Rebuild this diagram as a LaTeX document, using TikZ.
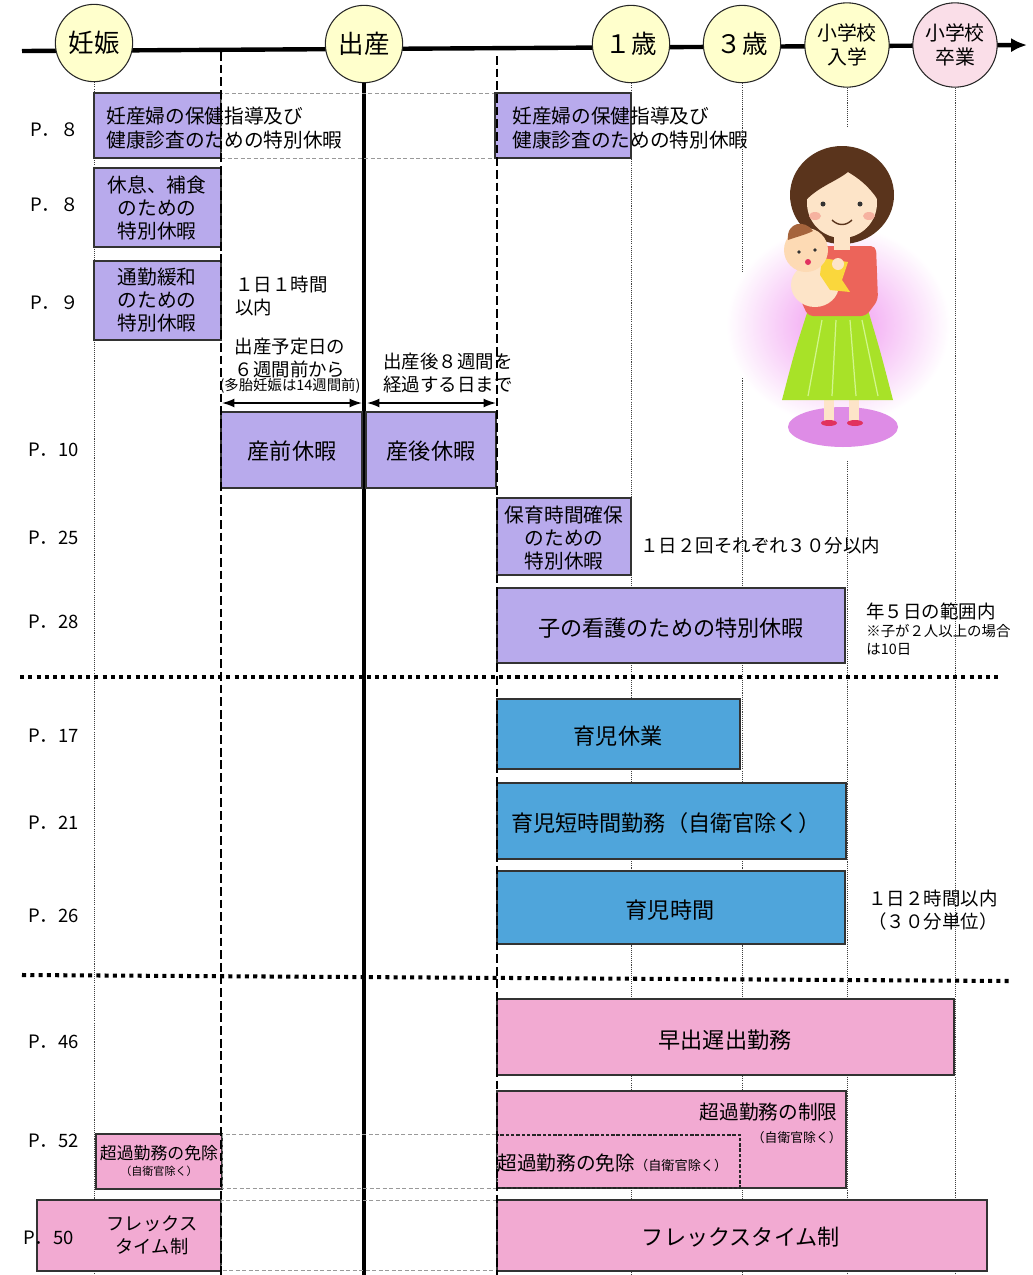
\documentclass[tikz,border=0pt]{standalone}
\usepackage{fontspec}
\setmainfont{Noto Sans CJK JP}
\usetikzlibrary{arrows.meta,positioning}

\definecolor{lav}{RGB}{184,170,236}
\definecolor{sky}{RGB}{79,165,219}
\definecolor{rose}{RGB}{242,170,210}
\definecolor{cream}{RGB}{255,255,204}
\definecolor{blush}{RGB}{250,222,232}
% colours of the mother and baby
\definecolor{glow}{RGB}{240,150,240}
\definecolor{floor}{RGB}{222,140,230}
\definecolor{skin}{RGB}{253,228,200}
\definecolor{shoe}{RGB}{225,50,95}
\definecolor{skirt}{RGB}{168,226,40}
\definecolor{pleat}{RGB}{210,246,140}
\definecolor{shirt}{RGB}{236,100,90}
\definecolor{hair}{RGB}{90,52,28}
\definecolor{cheek}{RGB}{246,178,160}
\definecolor{bib}{RGB}{250,215,60}
\definecolor{babyhair}{RGB}{165,100,60}

\tikzset{>={Latex[length=7pt,width=5pt]}}
\tikzset{
    stage/.style={circle, draw=black!85, line width=0.6pt, fill=cream, minimum size=44pt,
        inner sep=0pt, font=\fontsize{14.5}{16}\selectfont},
    school/.style={stage, minimum size=48pt, align=center, font=\fontsize{11.3}{13.6}\selectfont},
    timeline/.style={line width=2.5pt, -{Latex[length=9pt,width=8pt]}},
    guide/.style={line width=0.55pt, dash pattern=on 0.6pt off 0.6pt, black!75},
    border/.style={line width=1.7pt, dash pattern=on 5pt off 2.2pt},
    birth/.style={line width=2.8pt},
    rowsep/.style={line width=2.3pt, dash pattern=on 2.3pt off 2.4pt},
    lavbox/.style={draw=black!80, line width=0.8pt, fill=lav},
    skybox/.style={draw=black!80, line width=0.8pt, fill=sky},
    rosebox/.style={draw=black!80, line width=0.8pt, fill=rose},
    ghost/.style={draw=black!40, line width=0.5pt, dash pattern=on 2.5pt off 1.2pt},
    innerdash/.style={draw=black!85, line width=0.6pt, dash pattern=on 2pt off 1pt},
    txt/.style={inner sep=0pt, align=center, font=\fontsize{11.2}{13.3}\selectfont},
    bigtxt/.style={txt, font=\fontsize{12.6}{15}\selectfont},
    note/.style={inner sep=0pt, align=left, anchor=west, font=\fontsize{10.5}{12.8}\selectfont},
    fine/.style={inner sep=0pt, align=left, font=\fontsize{8.2}{10.2}\selectfont},
    pagelbl/.style={inner sep=0pt, anchor=east, font=\fontsize{10.5}{12}\selectfont},
}

\begin{document}
\begin{tikzpicture}[x=0.02cm, y=-0.02cm]
    \useasboundingbox (0,0) rectangle (1032,1275);
    \coordinate (bottom) at (0,1275);

    % time axis with the stages
    \draw[timeline] (22,51) -- (1027,45);
    \node[stage] (ninshin) at (94,43) {妊娠};
    \node[stage] (shussan) at (364,44) {出産};
    \node[stage] (age1) at (631,44) {１歳};
    \node[stage] (age3) at (742,44) {３歳};
    \node[school] (nyugaku) at (847,45) {小学校\\入学};
    \node[school, fill=blush] (sotsugyo) at (955,45) {小学校\\卒業};

    \foreach \s in {ninshin,age1,age3,nyugaku,sotsugyo}
    {
        \draw[guide] (\s.south) -- (\s.south |- bottom);
    }
    \draw[birth] (shussan.south) -- (shussan.south |- bottom);

    % mother holding the baby
    \fill[white] (772,127) rectangle (927,460);
    \shade[inner color=glow, outer color=white] (838,325) ellipse [x radius=112, y radius=100];
    \fill[floor] (843,427) ellipse [x radius=55, y radius=20];
    \fill[skin] (824,396) rectangle (834,421);
    \fill[skin] (849,396) rectangle (859,421);
    \fill[shoe] (829,423) ellipse [x radius=8, y radius=3];
    \fill[shoe] (855,423) ellipse [x radius=8, y radius=3];
    \fill[skirt] (808,310) -- (868,310) .. controls (880,350) .. (893,400)
        -- (782,400) .. controls (795,350) .. (808,310) -- cycle;
    \foreach \a/\b in {822/808, 836/832, 850/856, 862/878}
    {
        \draw[pleat, line width=0.7pt] (\a,320) -- (\b,396);
    }
    \fill[shirt, rounded corners=3pt] (800,246) -- (876,246) -- (878,300) -- (866,316)
        -- (808,316) -- (796,290) -- cycle;
    \fill[hair] (842,195) ellipse [x radius=52, y radius=49];
    \fill[skin] (834,230) rectangle (850,250);
    \fill[skin] (842,203) ellipse [x radius=35, y radius=35];
    \fill[hair] (806,200) .. controls (804,160) and (835,148) .. (850,152)
        .. controls (872,156) and (882,175) .. (878,200)
        .. controls (868,185) and (858,178) .. (848,172)
        .. controls (835,182) and (820,186) .. (806,200) -- cycle;
    \fill[black!80] (823,204) circle [radius=2.5];
    \fill[black!80] (860,204) circle [radius=2.5];
    \fill[cheek] (815,216) ellipse [x radius=6, y radius=4];
    \fill[cheek] (869,216) ellipse [x radius=6, y radius=4];
    \draw[line width=0.8pt, hair] (832,220) .. controls (838,226) and (846,226) .. (852,220);
    \fill[skin] (815,285) ellipse [x radius=24, y radius=22];
    \fill[bib] (822,258) -- (848,262) -- (842,280) -- (850,292) -- (830,290) -- (820,275) -- cycle;
    \fill[skin!90!orange] (806,250) circle [radius=22];
    \fill[babyhair] (788,240) .. controls (786,222) and (805,219) .. (813,231)
        .. controls (805,235) and (796,237) .. (788,240) -- cycle;
    \fill[black!80] (799,252) circle [radius=1.8];
    \fill[black!80] (815,250) circle [radius=1.8];
    \fill[shoe] (808,262) circle [radius=3];
    \fill[skin] (838,264) circle [radius=6];

    % special leaves
    \draw[lavbox] (94,93) rectangle (221,158);
    \draw[ghost] (221,93) rectangle (495,158);
    \draw[lavbox] (495,93) rectangle (631,158);
    \node[txt, anchor=west, align=left] (hoken) at (106,128) {妊産婦の保健指導及び\\健康診査のための特別休暇};
    \node[txt, anchor=west, align=left] (hoken2) at (512,128) {妊産婦の保健指導及び\\健康診査のための特別休暇};

    \draw[lavbox] (94,168) rectangle (221,247);
    \node[txt] (kyusoku) at (157,208) {休息、補食\\のための\\特別休暇};

    \draw[lavbox] (94,261) rectangle (221,340);
    \node[txt] (tsukin) at (157,300) {通勤緩和\\のための\\特別休暇};
    \node[note] (tsukinnote) at (235,296) {１日１時間\\以内};

    \node[note, anchor=center, align=center] (yotei) at (290,358) {出産予定日の\\６週間前から};
    \node[fine, below=0pt of yotei] (tatai) {(多胎妊娠は14週間前)};
    \node[note, anchor=center, align=center] (sangonote) at (448,373) {出産後８週間を\\経過する日まで};

    \coordinate (preL) at (222,403);
    \coordinate (preR) at (362,403);
    \coordinate (postL) at (367,403);
    \coordinate (postR) at (496,403);
    \draw[<->, line width=0.85pt] (preL) -- (preR);
    \draw[<->, line width=0.85pt] (postL) -- (postR);

    \draw[lavbox] (221,412) rectangle (362,488);
    \node[bigtxt] (sanzen) at (292,451) {産前休暇};
    \draw[lavbox] (366,412) rectangle (496,488);
    \node[bigtxt] (sango) at (431,451) {産後休暇};

    \draw[lavbox] (497,498) rectangle (631,575);
    \node[txt] (hoiku) at (564,538) {保育時間確保\\のための\\特別休暇};
    \node[note] (hoikunote) at (640,546) {１日２回それぞれ３０分以内};

    \draw[lavbox] (497,588) rectangle (845,663);
    \node[bigtxt] (kango) at (671,628) {子の看護のための特別休暇};
    \node[note] (kangonote) at (866,611) {年５日の範囲内};
    \node[fine, anchor=west] (kangonote2) at (866,640) {※子が２人以上の場合\\は10日};

    \draw[rowsep] (20,677) -- (1000,677);

    % child care
    \draw[skybox] (497,699) rectangle (740,769);
    \node[bigtxt] (ikukyu) at (618,736) {育児休業};
    \draw[skybox] (497,783) rectangle (846,859);
    \node[bigtxt] (tanjikan) at (666,823) {育児短時間勤務（自衛官除く）};
    \draw[skybox] (497,871) rectangle (845,944);
    \node[bigtxt] (ikuji) at (670,910) {育児時間};
    \node[note] (ikujinote) at (868,910) {１日２時間以内\\（３０分単位）};

    \draw[rowsep] (22,975) -- (1010,981);

    % working hours
    \draw[rosebox] (497,999) rectangle (954,1075);
    \node[bigtxt] (jisa) at (725,1040) {早出遅出勤務};

    \draw[rosebox] (497,1091) rectangle (846,1188);
    \node[txt, anchor=east] (seigen) at (838,1112) {超過勤務の制限};
    \node[fine, anchor=east, font=\fontsize{7.3}{9}\selectfont] (seigenjo) at (842,1138) {（自衛官除く）};
    \draw[innerdash] (497,1135) rectangle (740,1188);
    \node[txt, anchor=west] (menjo) at (497,1163) {超過勤務の免除{\fontsize{7.5}{9}\selectfont（自衛官除く）}};
    \draw[rosebox] (96,1134) rectangle (222,1189);
    \node[txt, font=\fontsize{9.6}{11}\selectfont] (menjoL) at (159,1153) {超過勤務の免除};
    \node[txt, font=\fontsize{6.3}{8}\selectfont] (menjoLjo) at (159,1171) {（自衛官除く）};
    \draw[ghost] (222,1134) rectangle (497,1188);

    \draw[rosebox] (37,1200) rectangle (221,1271);
    \node[txt, font=\fontsize{10.4}{13}\selectfont] (flexL) at (152,1235) {フレックス\\タイム制};
    \draw[ghost] (221,1200) rectangle (497,1270);
    \draw[rosebox] (497,1200) rectangle (987,1271);
    \node[bigtxt] (flex) at (741,1237) {フレックスタイム制};

    % 6 and 8 week borders
    \coordinate (wk6) at (221,52);
    \coordinate (wk8) at (497,56);
    \draw[border] (wk6) -- (wk6 |- bottom);
    \draw[border] (wk8) -- (wk8 |- bottom);

    % page references
    \foreach \y/\t in {130/P．８, 205/P．８, 303/P．９, 450/P．10, 538/P．25, 622/P．28,
        736/P．17, 823/P．21, 916/P．26, 1042/P．46, 1141/P．52}
    {
        \node[pagelbl] (pg\y) at (79,\y) {\t};
    }
    \node[pagelbl] (pg1238) at (74,1238) {P．50};
\end{tikzpicture}
\end{document}
